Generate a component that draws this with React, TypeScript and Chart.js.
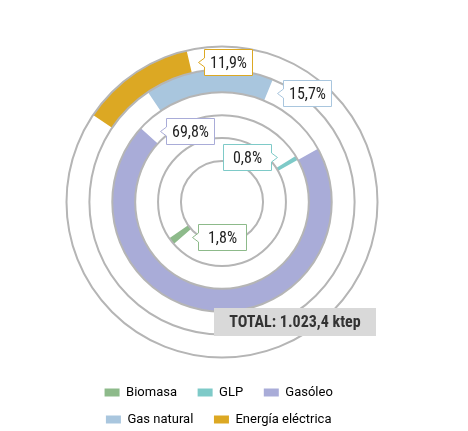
import React, { useEffect, useRef } from "react";
import { Chart, registerables } from "chart.js";

Chart.register(...registerables);

// ---- data ----
const categories = ["Biomasa", "GLP", "Gasóleo", "Gas natural", "Energía eléctrica"];
const shares = [1.8, 0.8, 69.8, 15.7, 11.9];
const colors = ["#8dba8a", "#7ecac8", "#a9acd8", "#a9c6de", "#dca823"];
// rings from outside to inside (indices into categories)
const ringOrder = [4, 3, 2, 1, 0];
// start angle of each category's arc, degrees clockwise from 12 o'clock
const startAngles = [229, 58, 61, -34, 304];
const totalText = "TOTAL: 1.023,4 ktep";

// label callout placement (style only)
const labelSpecs = [
  { side: "start", offset: -8, frac: 0.22, box: "right" },
  { side: "start", offset: -7, frac: 0.31, box: "left" },
  { side: "end", offset: 6.7, frac: 0.34, box: "right" },
  { side: "end", offset: 4.2, frac: 0.52, box: "right" },
  { side: "end", offset: 3.6, frac: 0.41, box: "right" },
];

const NARROW = "'Liberation Sans Narrow', 'Roboto Condensed', 'DejaVu Sans Condensed', Roboto, sans-serif";
const fmt = (v: number) => v.toFixed(1).replace(".", ",") + "%";

const ringsPlugin = {
  id: "rings",
  afterDatasetsDraw(chart: any) {
    const ctx = chart.ctx;
    const n = chart.data.datasets.length;
    ctx.save();
    ctx.strokeStyle = "#b5b5b5";
    ctx.lineWidth = 2;
    for (let i = 0; i < n; i++) {
      const arc = chart.getDatasetMeta(i).data[0];
      const radii = i === n - 1 ? [arc.outerRadius, arc.innerRadius] : [arc.outerRadius];
      radii.forEach((r: number) => {
        ctx.beginPath();
        ctx.arc(arc.x, arc.y, r, 0, Math.PI * 2);
        ctx.stroke();
      });
    }
    ctx.restore();
  },
  afterDraw(chart: any) {
    const ctx = chart.ctx;
    ctx.save();
    ctx.font = `16px ${NARROW}`;
    categories.forEach((_c, ci) => {
      const ds = ringOrder.indexOf(ci);
      const arc = chart.getDatasetMeta(ds).data[0];
      const spec = labelSpecs[ci];
      const base = spec.side === "end" ? arc.endAngle : arc.startAngle;
      const a = base + (spec.offset * Math.PI) / 180;
      const r = arc.innerRadius + spec.frac * (arc.outerRadius - arc.innerRadius);
      const tx = Math.round(arc.x + r * Math.cos(a)) + 0.5;
      const ty = Math.round(arc.y + r * Math.sin(a)) + 0.5;
      const w = 48, h = 26, nl = 6, nh = 4.5;
      const left = spec.box === "right" ? tx + nl : tx - nl - w;
      const top = ty - h / 2;
      ctx.beginPath();
      if (spec.box === "right") {
        ctx.moveTo(left, top);
        ctx.lineTo(left + w, top);
        ctx.lineTo(left + w, top + h);
        ctx.lineTo(left, top + h);
        ctx.lineTo(left, ty + nh);
        ctx.lineTo(tx, ty);
        ctx.lineTo(left, ty - nh);
        ctx.closePath();
      } else {
        ctx.moveTo(left, top);
        ctx.lineTo(left + w, top);
        ctx.lineTo(left + w, ty - nh);
        ctx.lineTo(tx, ty);
        ctx.lineTo(left + w, ty + nh);
        ctx.lineTo(left + w, top + h);
        ctx.lineTo(left, top + h);
        ctx.closePath();
      }
      ctx.fillStyle = "#ffffff";
      ctx.fill();
      ctx.strokeStyle = colors[ci];
      ctx.lineWidth = 1;
      ctx.stroke();
      ctx.fillStyle = "#222222";
      ctx.textAlign = "center";
      ctx.textBaseline = "middle";
      ctx.fillText(fmt(shares[ci]), left + w / 2, ty + 1);
    });
    // total box, anchored to the chart centre
    const arc0 = chart.getDatasetMeta(0).data[0];
    const bx = Math.round(arc0.x - 8), by = Math.round(arc0.y + 106);
    const bw = 162, bh = 28;
    ctx.fillStyle = "#d9d9d9";
    ctx.fillRect(bx, by, bw, bh);
    ctx.fillStyle = "#333333";
    ctx.font = `bold 16px ${NARROW}`;
    ctx.textAlign = "center";
    ctx.textBaseline = "middle";
    ctx.fillText(totalText, bx + bw / 2, by + bh / 2 + 1);
    ctx.restore();
  },
};

export default function App() {
  const ref = useRef<HTMLCanvasElement | null>(null);
  useEffect(() => {
    if (!ref.current) return;
    const chart = new Chart(ref.current, {
      type: "doughnut",
      data: {
        labels: ["valor", "resto"],
        datasets: ringOrder.map((ci) => ({
          label: categories[ci],
          data: [shares[ci], 100 - shares[ci]],
          backgroundColor: [colors[ci], "rgba(0,0,0,0)"],
          borderWidth: 0,
          rotation: startAngles[ci],
        })),
      },
      options: {
        responsive: false,
        animation: false,
        radius: 155.5,
        cutout: "26.4%",
        layout: { padding: { left: 67, right: 91, top: 32, bottom: 4 } },
        plugins: {
          tooltip: { enabled: false },
          legend: {
            position: "bottom",
            onClick: () => {},
            labels: {
              boxWidth: 15,
              boxHeight: 8,
              padding: 14,
              color: "#222222",
              font: { family: "Roboto, sans-serif", size: 13 },
              generateLabels: () =>
                categories.map((c, i) => ({
                  text: c + "\u2002",
                  fillStyle: colors[i],
                  strokeStyle: colors[i],
                  lineWidth: 0,
                  hidden: false,
                  index: i,
                })),
            },
          },
        },
      } as any,
      plugins: [ringsPlugin],
    });
    return () => chart.destroy();
  }, []);
  return (
    <div style={{ position: "fixed", left: 0, top: 0, width: 468, height: 440 }}>
      <canvas ref={ref} width={468} height={440} style={{ display: "block" }} />
    </div>
  );
}
